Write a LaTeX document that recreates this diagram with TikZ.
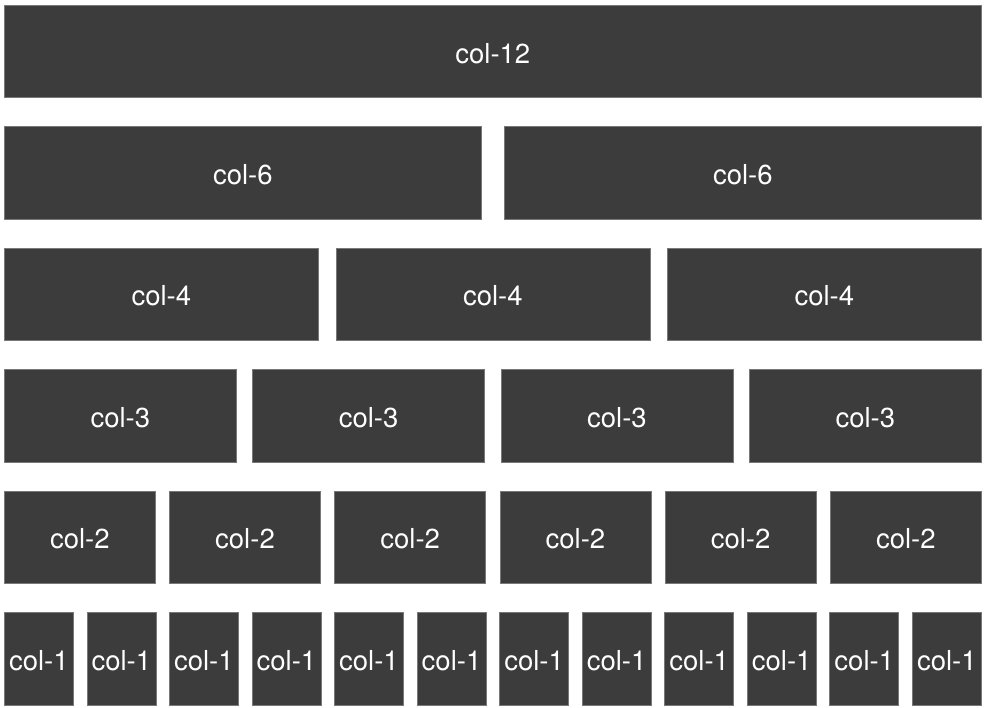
\documentclass[tikz,border=0pt]{standalone}
\usepackage{fontspec}
\setmainfont{TeX Gyre Heros}
\definecolor{colfill}{RGB}{60,60,60}
\definecolor{coledge}{RGB}{120,120,120}
\begin{document}
\begin{tikzpicture}[x=1pt,y=-1pt,
  colbox/.style={draw=coledge,fill=colfill,line width=0.6pt,inner sep=0pt,
    anchor=north west,text=white,text height=23pt,text depth=0pt,
    font=\fontsize{27.5}{28}\selectfont}]
\useasboundingbox (0,0) rectangle (985,708);
% one row per column width: count/width/label
\foreach \n/\w/\lab [count=\r from 0] in {1/977/12,2/477/6,3/314/4,4/232/3,6/151/2,12/69/1}{
  \pgfmathsetmacro{\pitch}{(977-\w)/max(\n-1,1)}
  \foreach \i in {1,...,\n}{
    \node[colbox,minimum width=\w pt,minimum height=92.5pt] (c\lab-\i)
      at ({4+(\i-1)*\pitch},{5+\r*121.4}) {col-\lab};
  }
}
\end{tikzpicture}
\end{document}
